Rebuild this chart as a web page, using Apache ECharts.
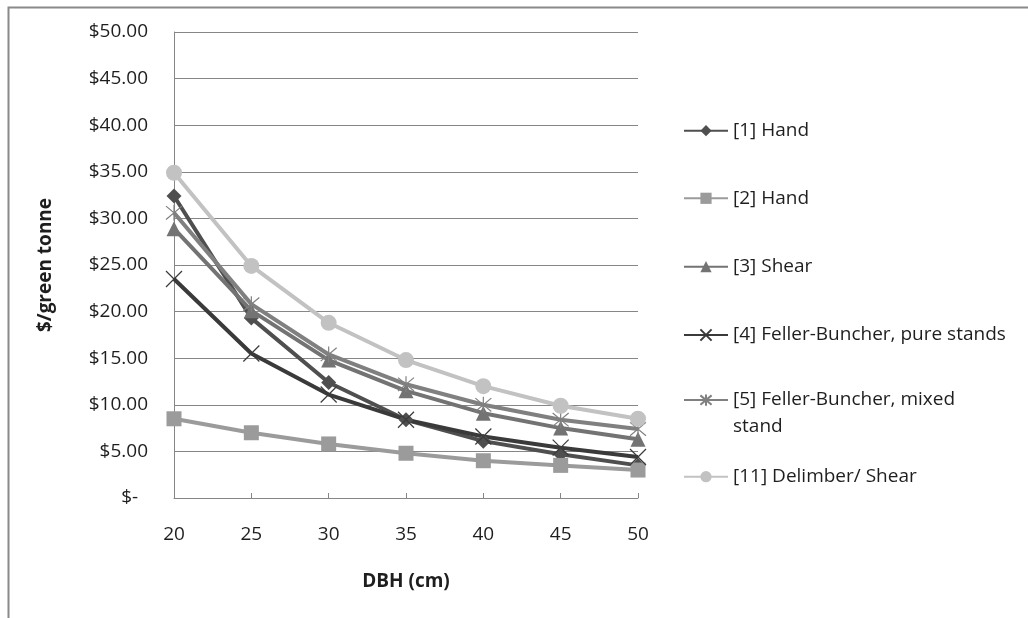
<!DOCTYPE html>
<html>
<head>
<meta charset="utf-8">
<script src="https://cdn.jsdelivr.net/npm/echarts@6/dist/echarts.min.js"></script>
<style>
html,body{margin:0;padding:0;background:#fff;}
#chart{width:1028px;height:618px;}
</style>
</head>
<body>
<div id="chart"></div>
<script>
// ---- data ----
const dbhCategories = ['20', '25', '30', '35', '40', '45', '50'];
const seriesNames = [
  '[1] Hand',
  '[2] Hand',
  '[3] Shear',
  '[4] Feller-Buncher, pure stands',
  '[5] Feller-Buncher, mixed stand',
  '[11] Delimber/ Shear'
];
const hand1 = [32.4, 19.3, 12.4, 8.4, 6.1, 4.7, 3.5];
const hand2 = [8.5, 7.0, 5.8, 4.8, 4.0, 3.5, 3.0];
const shear3 = [28.9, 20.1, 14.8, 11.5, 9.1, 7.5, 6.3];
const fbPure4 = [23.5, 15.5, 11.1, 8.4, 6.6, 5.4, 4.4];
const fbMixed5 = [30.6, 20.8, 15.4, 12.2, 10.0, 8.4, 7.4];
const delimber11 = [34.9, 24.9, 18.8, 14.8, 12.0, 9.9, 8.5];
const yTicks = [0, 5, 10, 15, 20, 25, 30, 35, 40, 45, 50];

// ---- styles ----
const FONT = 'Open Sans';
const colors = ['#4f4f4f', '#9b9b9b', '#737373', '#3a3a3a', '#808080', '#c2c2c2'];
const symbols = [
  'diamond', 'rect', 'triangle',
  'path://M0,0L10,10M10,0L0,10',
  'path://M0,0L10,10M10,0L0,10M5,-1L5,11',
  'circle'
];
const symbolSizes = [15, 15, 15, 16, 16, 16];
const allData = [hand1, hand2, shear3, fbPure4, fbMixed5, delimber11];
const legendCenters = [130.7, 198.3, 266.7, 335, 400, 476.7];

const series = allData.map((d, i) => {
  const isPath = symbols[i].startsWith('path://');
  return {
    name: seriesNames[i],
    type: 'line',
    data: d,
    symbol: symbols[i],
    symbolSize: symbolSizes[i],
    showAllSymbol: true,
    lineStyle: { color: colors[i], width: 4 },
    itemStyle: isPath
      ? { color: 'rgba(0,0,0,0)', borderColor: colors[i], borderWidth: 1.2 }
      : { color: colors[i], borderWidth: 0 },
    emphasis: { disabled: true },
    animation: false
  };
});

const legends = seriesNames.map((n, i) => {
  const twoLine = i === 4;
  const lg = {
    data: [n],
    left: 683,
    top: twoLine ? legendCenters[i] - 40 : legendCenters[i] - 9.5,
    padding: 0,
    itemWidth: 44,
    itemHeight: 14,
    selectedMode: false,
    textStyle: { fontFamily: FONT, fontSize: 19, color: '#1e1e1e' }
  };
  if (twoLine) {
    // blank first line so the first text line sits level with the icon
    lg.formatter = () => ' \n[5] Feller-Buncher, mixed\nstand';
    lg.textStyle.lineHeight = 26.7;
  }
  return lg;
});

const chart = echarts.init(document.getElementById('chart'), null, { renderer: 'canvas' });
chart.setOption({
  backgroundColor: '#fff',
  animation: false,
  graphic: [{
    type: 'rect',
    left: 6, top: 5,
    shape: { x: 0, y: 0, width: 1200, height: 800 },
    style: { fill: 'none', stroke: '#8a8a8a', lineWidth: 2 },
    silent: true
  }],
  grid: { left: 174, right: 390, top: 32, bottom: 120, containLabel: false },
  legend: legends,
  xAxis: {
    type: 'category',
    data: dbhCategories,
    boundaryGap: false,
    name: 'DBH (cm)',
    nameLocation: 'middle',
    nameGap: 74,
    nameTextStyle: { fontFamily: FONT, fontSize: 19, fontWeight: 'bold', color: '#1e1e1e' },
    axisLine: { lineStyle: { color: '#868686', width: 1 } },
    axisTick: { show: true, inside: true, length: 5, lineStyle: { color: '#868686' } },
    axisLabel: { fontFamily: FONT, fontSize: 19, color: '#1e1e1e', margin: 27 },
    splitLine: { show: false }
  },
  yAxis: {
    type: 'value',
    min: yTicks[0],
    max: yTicks[yTicks.length - 1],
    interval: yTicks[1] - yTicks[0],
    name: '$/green tonne',
    nameLocation: 'middle',
    nameGap: 119,
    nameRotate: 90,
    nameTextStyle: { fontFamily: FONT, fontSize: 19, fontWeight: 'bold', color: '#1e1e1e' },
    axisLine: { show: true, lineStyle: { color: '#868686', width: 1 } },
    axisTick: { show: false },
    axisLabel: {
      fontFamily: FONT, fontSize: 19, color: '#1e1e1e', margin: 26,
      formatter: v => v === 0 ? '$-  ' : '$' + v.toFixed(2)
    },
    splitLine: { show: true, lineStyle: { color: '#868686', width: 1 } }
  },
  series: series
});
</script>
</body>
</html>
